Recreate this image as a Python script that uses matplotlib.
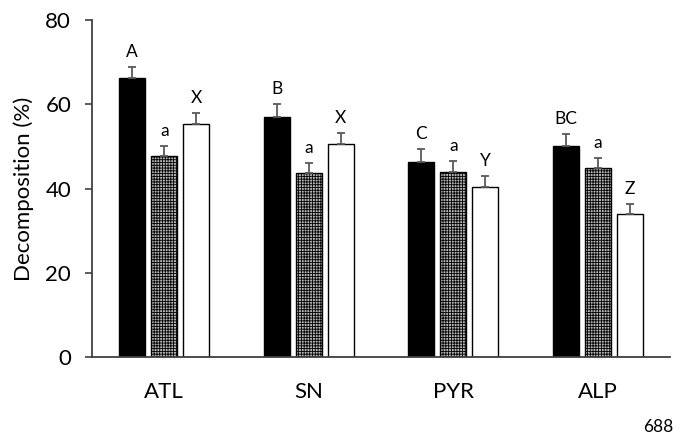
import matplotlib
matplotlib.use("Agg")
import matplotlib.pyplot as plt
import numpy as np

categories = ["ATL", "SN", "PYR", "ALP"]
black_vals = [66.2, 57.0, 46.4, 50.1]
black_err = [2.7, 3.0, 3.0, 2.8]
gray_vals = [47.8, 43.6, 43.9, 44.8]
gray_err = [2.3, 2.5, 2.6, 2.5]
white_vals = [55.3, 50.5, 40.3, 33.9]
white_err = [2.7, 2.6, 2.7, 2.4]
black_letters = ["A", "B", "C", "BC"]
gray_letters = ["a", "a", "a", "a"]
white_letters = ["X", "X", "Y", "Z"]
yticks = [0, 20, 40, 60, 80]

plt.rcParams['font.family'] = ['Lato', 'DejaVu Sans']
plt.rcParams['hatch.linewidth'] = 0.6

fig = plt.figure(figsize=(6.88, 4.37), dpi=100)
ax = fig.add_axes([0.1337, 0.183, 0.8403, 0.771])

x = np.arange(len(categories))
w = 0.18
step = 0.222
err_kw = dict(ecolor='#595959', elinewidth=1.3, capsize=3, capthick=1.3)

series = [
    (black_vals, black_err, black_letters, -step, dict(color='black', edgecolor='black')),
    (gray_vals, gray_err, gray_letters, 0.0, dict(color='#b5b5b5', edgecolor='black', hatch='++++++')),
    (white_vals, white_err, white_letters, step, dict(color='white', edgecolor='black')),
]
for vals, errs, letters, off, style in series:
    yerr = [np.zeros(len(errs)), errs]
    ax.bar(x + off, vals, w, yerr=yerr, error_kw=err_kw, linewidth=1.0, zorder=2, **style)
    for xi, v, e, lab in zip(x + off, vals, errs, letters):
        ax.annotate(lab, (xi, v + e), xytext=(0, 5), textcoords='offset points',
                    ha='center', va='bottom', fontsize=12.5)

ax.set_xlim(-0.5, 3.5)
ax.set_ylim(0, 80)
ax.set_yticks(yticks)
ax.set_xticks(x)
ax.set_xticklabels(categories, fontsize=16)
ax.tick_params(axis='y', labelsize=16, direction='out', length=5, width=1.2, color='#404040', pad=10)
ax.tick_params(axis='x', length=0, pad=18)
for s in ['top', 'right']:
    ax.spines[s].set_visible(False)
for s in ['left', 'bottom']:
    ax.spines[s].set_color('#404040')
    ax.spines[s].set_linewidth(1.3)
ax.set_ylabel("Decomposition (%)", fontsize=16, labelpad=8)

fig.text(658 / 688, 1 - 427 / 437, "688", ha='center', va='center', fontsize=12.5)

fig.savefig("out.png", dpi=100)
